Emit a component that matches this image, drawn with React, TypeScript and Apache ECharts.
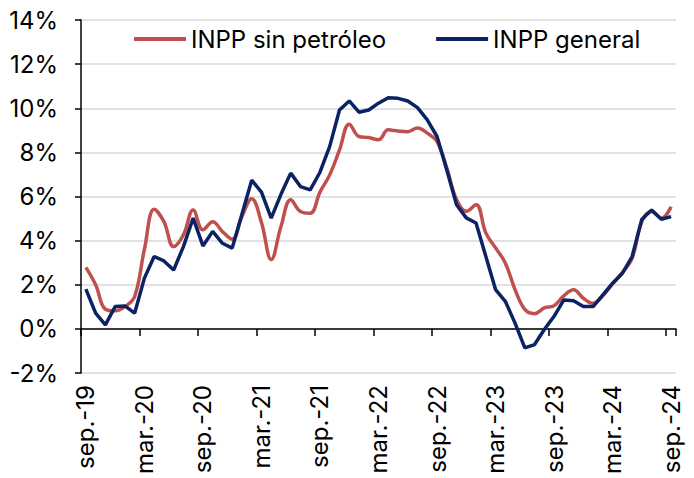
import React, { useEffect, useRef } from 'react';
import * as echarts from 'echarts';

const categories = [
  'sep.-19', 'oct.-19', 'nov.-19', 'dic.-19',
  'ene.-20', 'feb.-20', 'mar.-20', 'abr.-20', 'may.-20', 'jun.-20', 'jul.-20', 'ago.-20', 'sep.-20', 'oct.-20', 'nov.-20', 'dic.-20',
  'ene.-21', 'feb.-21', 'mar.-21', 'abr.-21', 'may.-21', 'jun.-21', 'jul.-21', 'ago.-21', 'sep.-21', 'oct.-21', 'nov.-21', 'dic.-21',
  'ene.-22', 'feb.-22', 'mar.-22', 'abr.-22', 'may.-22', 'jun.-22', 'jul.-22', 'ago.-22', 'sep.-22', 'oct.-22', 'nov.-22', 'dic.-22',
  'ene.-23', 'feb.-23', 'mar.-23', 'abr.-23', 'may.-23', 'jun.-23', 'jul.-23', 'ago.-23', 'sep.-23', 'oct.-23', 'nov.-23', 'dic.-23',
  'ene.-24', 'feb.-24', 'mar.-24', 'abr.-24', 'may.-24', 'jun.-24', 'jul.-24', 'ago.-24', 'sep.-24',
];

const inppSinPetroleo = [
  2.79, 2.0, 0.89, 0.82,
  1.01, 1.47, 3.6, 5.42, 4.86, 3.73, 4.26, 5.39, 4.49, 4.86, 4.41, 4.06,
  5.09, 5.9, 4.82, 3.14, 4.64, 5.85, 5.32, 5.24, 6.2, 6.98, 8.11, 9.28,
  8.72, 8.67, 8.57, 9.02, 8.97, 8.94, 9.1, 8.87, 8.49, 7.3, 5.86, 5.33,
  5.63, 4.35, 3.67, 2.99, 1.78, 0.88, 0.69, 0.95, 1.05, 1.5, 1.77, 1.39,
  1.16, 1.5, 2.04, 2.55, 3.2, 4.86, 5.32, 5.02, 5.54,
];

const inppGeneral = [
  1.8, 0.71, 0.18, 1.01,
  1.04, 0.71, 2.3, 3.28, 3.08, 2.67, 3.73, 5.02, 3.76, 4.42, 3.88, 3.66,
  5.2, 6.74, 6.2, 5.02, 6.1, 7.06, 6.45, 6.3, 7.1, 8.27, 9.92, 10.33,
  9.82, 9.92, 10.23, 10.48, 10.45, 10.33, 10.03, 9.47, 8.72, 7.2, 5.63, 5.03,
  4.8, 3.29, 1.78, 1.25, 0.26, -0.86, -0.71, -0.03, 0.57, 1.31, 1.27, 1.01,
  1.01, 1.54, 2.07, 2.52, 3.28, 4.97, 5.39, 4.97, 5.09,
];

const seriesNames = ['INPP sin petróleo', 'INPP general'];

export default function App() {
  const ref = useRef<HTMLDivElement>(null);
  useEffect(() => {
    document.body.style.margin = '0';
    const chart = echarts.init(ref.current!, null, { renderer: 'svg' });
    const font = 'Inter';
    chart.setOption({
      animation: false,
      backgroundColor: '#ffffff',
      textStyle: { fontFamily: font },
      grid: { left: 81, right: 18, top: 20, bottom: 105 },
      legend: {
        data: seriesNames,
        left: 134,
        top: 27,
        padding: 0,
        icon: 'rect',
        itemWidth: 52,
        itemHeight: 4,
        itemGap: 50,
        textStyle: { fontSize: 24, color: '#000', fontFamily: font },
      },
      xAxis: [
        {
          type: 'category',
          data: categories,
          boundaryGap: true,
          axisLine: { show: true, onZero: true, lineStyle: { color: '#000', width: 1.5 } },
          axisTick: { show: true, interval: 5, length: 7, lineStyle: { color: '#000', width: 1.5 } },
          axisLabel: { show: false },
          splitLine: { show: false },
        },
        {
          type: 'category',
          data: categories,
          position: 'bottom',
          boundaryGap: true,
          axisLine: { show: false, onZero: false },
          axisTick: { show: false },
          axisLabel: {
            interval: 5,
            rotate: 90,
            margin: 12,
            fontSize: 24,
            color: '#000',
            fontFamily: font,
          },
          splitLine: { show: false },
        },
      ],
      yAxis: {
        type: 'value',
        min: -2,
        max: 14,
        interval: 2,
        axisLine: { show: true, lineStyle: { color: '#000', width: 1.5 } },
        axisTick: { show: true, length: 6, lineStyle: { color: '#000', width: 1.5 } },
        axisLabel: { formatter: '{value}%', fontSize: 24, color: '#000', margin: 23, fontFamily: font },
        splitLine: { show: true, lineStyle: { color: '#d9d9d9', width: 1.5 } },
      },
      series: [
        {
          name: seriesNames[0],
          type: 'line',
          data: inppSinPetroleo,
          smooth: 0.4,
          symbol: 'none',
          lineStyle: { color: '#C0504D', width: 3.5 },
          itemStyle: { color: '#C0504D' },
        },
        {
          name: seriesNames[1],
          type: 'line',
          data: inppGeneral,
          symbol: 'none',
          lineStyle: { color: '#0B2265', width: 3.5 },
          itemStyle: { color: '#0B2265' },
        },
      ],
    });
    return () => chart.dispose();
  }, []);
  return <div ref={ref} style={{ width: 694, height: 478 }} />;
}
